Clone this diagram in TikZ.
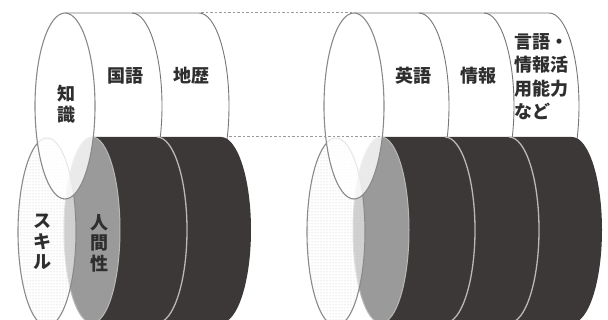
\documentclass[tikz,border=0pt]{standalone}
\usepackage{fontspec}
\newfontfamily\cjk{Noto Sans CJK JP}
\usetikzlibrary{patterns}
\definecolor{darkc}{HTML}{3C3838}
\definecolor{grayc}{HTML}{9A9A9A}
\definecolor{wlinec}{HTML}{777777}
\definecolor{elinec}{HTML}{8A8A8A}
\definecolor{divc}{HTML}{B8B8B8}
\definecolor{dotc}{HTML}{C4C4C4}
\definecolor{dashc}{HTML}{999999}
\definecolor{txtc}{HTML}{2E2E2E}
\begin{document}
\begin{tikzpicture}[x=1pt,y=1pt,
  wline/.style={draw=wlinec, line width=0.9pt},
  eline/.style={draw=elinec, line width=1.1pt},
  divline/.style={draw=divc, line width=1.3pt},
  dashl/.style={draw=dashc, line width=1pt, dash pattern=on 2.5pt off 2pt},
  rhalf/.style={start angle=90, end angle=-90, x radius=30, y radius=93},
  lbl/.style={font=\cjk\bfseries\fontsize{18}{20.5}\selectfont, text=txtc, inner sep=0pt, align=center},
  lblr/.style={font=\cjk\bfseries\fontsize{18}{23.5}\selectfont, text=txtc, inner sep=0pt, align=left}]
\useasboundingbox (0,0) rectangle (608,320);
\clip (0,0) rectangle (608,320);

% ===== left group =====
% white cylinder
\fill[white] (65,307) -- (199,307) arc[rhalf] -- (65,121) -- cycle;
\draw[wline] (65,307) -- (199,307) arc[rhalf];
\draw[wline] (132,307) arc[rhalf];
% dark cylinder
\fill[darkc] (92,183) -- (221,183) arc[rhalf] -- (92,-3) -- cycle;
\draw[divline] (157,183) arc[rhalf];
% 人間性 face
\fill[grayc] (92,90) ellipse[x radius=28, y radius=93];
\draw[draw=divc, line width=1pt] (92,90) ellipse[x radius=28, y radius=93];
% スキル
\fill[white, fill opacity=0.55] (47,88) ellipse[x radius=29, y radius=94];
\fill[pattern=dots, pattern color=dotc] (47,88) ellipse[x radius=29, y radius=94];
\draw[eline] (47,88) ellipse[x radius=29, y radius=94];
% 知識 face
\fill[white, fill opacity=0.8] (65,214) ellipse[x radius=30, y radius=93];
\draw[eline] (65,214) ellipse[x radius=30, y radius=93];

% ===== right group =====
\fill[white] (354,307) -- (549,307) arc[rhalf] -- (354,121) -- cycle;
\draw[wline] (354,307) -- (549,307) arc[rhalf];
\draw[wline] (419,307) arc[rhalf];
\draw[wline] (484,307) arc[rhalf];
\fill[darkc] (381,183) -- (572,183) arc[rhalf] -- (381,-3) -- cycle;
\draw[divline] (445,183) arc[rhalf];
\draw[divline] (509,183) arc[rhalf];
\fill[grayc] (381,90) ellipse[x radius=28, y radius=93];
\draw[draw=divc, line width=1pt] (381,90) ellipse[x radius=28, y radius=93];
\fill[white, fill opacity=0.55] (336,88) ellipse[x radius=29, y radius=94];
\fill[pattern=dots, pattern color=dotc] (336,88) ellipse[x radius=29, y radius=94];
\draw[eline] (336,88) ellipse[x radius=29, y radius=94];
\fill[white, fill opacity=0.8] (354,214) ellipse[x radius=30, y radius=93];
\draw[eline] (354,214) ellipse[x radius=30, y radius=93];

% dashed connecting lines
\draw[dashl] (201,307) -- (354,307);
\draw[dashl] (229,183) -- (381,183);

% labels
\node[lbl] (chishiki) at (66,216) {知\\識};
\node[lbl] (kokugo) at (125,244) {国語};
\node[lbl] (chireki) at (191,244) {地歴};
\node[lbl] (skill) at (43,78) {ス\\キ\\ル};
\node[lbl] (ningen) at (99,77) {人\\間\\性};
\node[lbl] (eigo) at (413,244) {英語};
\node[lbl] (joho) at (478,244) {情報};
\node[lblr, anchor=north west] (gengo) at (514,287) {言語・\\情報活\\用能力\\など};
\end{tikzpicture}
\end{document}
